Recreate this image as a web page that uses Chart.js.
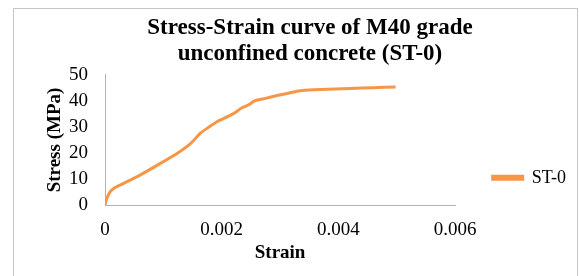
<!DOCTYPE html>
<html>
<head>
<meta charset="utf-8">
<script src="https://cdn.jsdelivr.net/npm/chart.js@4"></script>
<style>
    html, body { margin: 0; padding: 0; background: #fff; overflow: hidden; }
    #frame {
        position: absolute; left: 13px; top: 8px;
        width: 563px; height: 290px;
        border: 1px solid #c6c6c6;
    }
    #wrap { position: absolute; left: 0; top: 0; width: 563px; height: 267px; }
</style>
</head>
<body>
<div id="frame">
    <div id="wrap"><canvas id="chart-st0"></canvas></div>
</div>
<script>
const strain = [0, 0.00003, 0.00009, 0.00016, 0.00026, 0.00060, 0.00095, 0.00124, 0.00147, 0.00164,
    0.00179, 0.00193, 0.00211, 0.00222, 0.00234, 0.00246, 0.00257, 0.00275, 0.00297, 0.00318,
    0.00338, 0.00370, 0.00420, 0.00460, 0.00498]
const stress = [0, 2.5, 5.1, 6.5, 7.7, 11.5, 16.0, 19.9, 23.7, 27.7,
    30.1, 32.2, 34.1, 35.4, 37.3, 38.5, 40.1, 41.0, 42.2, 43.2,
    44.0, 44.4, 44.8, 45.1, 45.4]
const xTicks = [0, 0.002, 0.004, 0.006]
const xTickLabels = ['0', '0.002', '0.004', '0.006']
const yTicks = [0, 10, 20, 30, 40, 50]

const serif = "'Liberation Serif', 'Times New Roman', serif"
const orange = '#f79646'
const axisGrey = '#b4b4b4'

const ctx_st0 = document.getElementById('chart-st0')
const chart_st0 = new Chart(ctx_st0, {
    type: 'line',
    data: {
        datasets: [{
            label: 'ST-0',
            data: strain.map((s, i) => ({x: s, y: stress[i]})),
            borderColor: orange,
            backgroundColor: orange,
            borderWidth: 3,
            pointRadius: 0,
            tension: 0.2
        }]
    },
    options: {
        responsive: true,
        maintainAspectRatio: false,
        animation: false,
        layout: {
            padding: {left: 30, right: 1, top: 0, bottom: 11.6}
        },
        plugins: {
            title: {
                display: true,
                text: ['Stress-Strain curve of M40 grade', 'unconfined concrete (ST-0)'],
                color: '#000',
                font: {family: serif, size: 23, weight: 'bold', lineHeight: 1.13},
                padding: {top: 6, bottom: 8}
            },
            legend: {
                position: 'right',
                align: 'center',
                fullSize: false,
                title: {display: true, text: '', padding: {top: 0, bottom: 54}, font: {size: 18}},
                labels: {
                    boxWidth: 30,
                    boxHeight: 3,
                    padding: 37.5,
                    color: '#000',
                    font: {family: serif, size: 18}
                }
            },
            tooltip: {enabled: false}
        },
        scales: {
            x: {
                type: 'linear',
                min: 0,
                max: 0.006,
                afterBuildTicks: (axis) => { axis.ticks = xTicks.map(v => ({value: v})) },
                afterFit: (axis) => { axis.height = 59.4 },
                ticks: {
                    padding: 14,
                    autoSkip: false,
                    maxRotation: 0,
                    color: '#000',
                    font: {family: serif, size: 19},
                    callback: (v) => xTickLabels[xTicks.indexOf(v)]
                },
                grid: {display: true, color: 'transparent', drawTicks: false},
                border: {display: true, color: axisGrey, width: 1},
                title: {
                    display: true,
                    text: 'Strain',
                    color: '#000',
                    font: {family: serif, size: 19, weight: 'bold'},
                    padding: {top: 3, bottom: 0}
                }
            },
            y: {
                type: 'linear',
                min: 0,
                max: 50,
                afterBuildTicks: (axis) => { axis.ticks = yTicks.map(v => ({value: v})) },
                afterFit: (axis) => { axis.width = 61 },
                ticks: {
                    padding: 17,
                    autoSkip: false,
                    color: '#000',
                    font: {family: serif, size: 19}
                },
                grid: {display: true, color: 'transparent', drawTicks: false},
                border: {display: true, color: axisGrey, width: 1},
                title: {
                    display: true,
                    text: 'Stress (MPa)',
                    color: '#000',
                    font: {family: serif, size: 19, weight: 'bold'},
                    padding: {top: 0, bottom: 2}
                }
            }
        }
    }
})
</script>
</body>
</html>
